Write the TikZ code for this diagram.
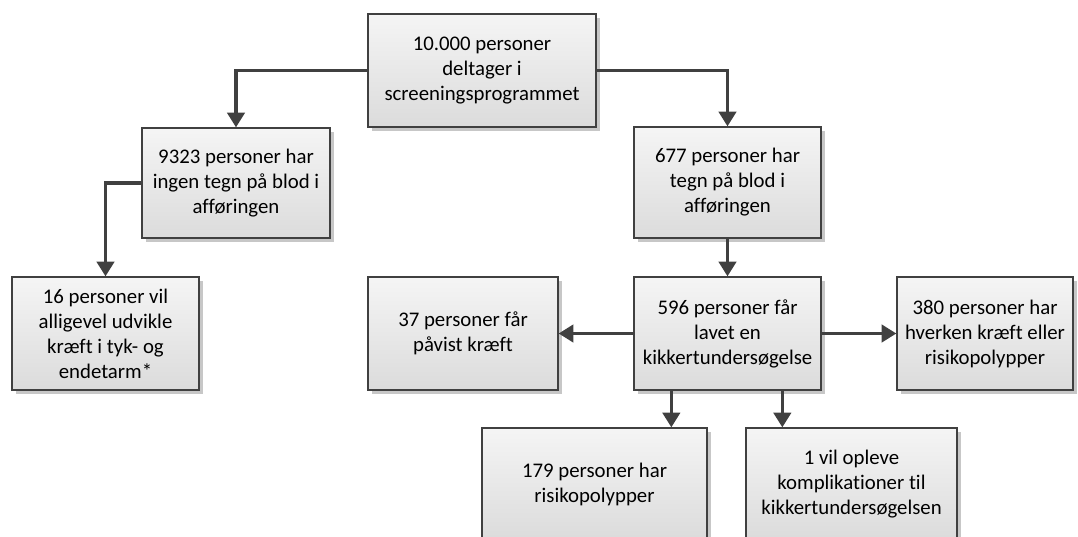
\documentclass[tikz,border=0pt]{standalone}
\usepackage{fontspec}
\setmainfont{Carlito}[Ligatures={NoCommon,NoRare,NoContextual}]
\usetikzlibrary{arrows.meta,shadows,calc}
\definecolor{edgegray}{HTML}{404040}
\definecolor{arrgray}{HTML}{404040}
\begin{document}
\begin{tikzpicture}[x=0.75pt,y=-0.75pt,
  box/.style={draw=edgegray, line width=1pt, top color=black!4, bottom color=black!14,
    drop shadow={shadow xshift=3pt, shadow yshift=-3pt, fill=black!22, opacity=1},
    align=center, inner sep=0pt, text=black,
    font=\fontsize{15.6pt}{18.75pt}\selectfont},
  arr/.style={draw=arrgray, line width=2.4pt, -{Triangle[width=13pt,length=11pt]}}]
\useasboundingbox (0,0) rectangle (1078,536);
\clip (0,0) rectangle (1078,536);
\node[box, minimum width=171pt, minimum height=84.75pt] (top) at (482,70.5)
  {10.000 personer\\deltager i\\screeningsprogrammet};
\node[box, minimum width=141pt, minimum height=82.5pt] (b9323) at (236,183)
  {9323 personer har\\ingen tegn på blod i\\afføringen};
\node[box, minimum width=140.25pt, minimum height=83.25pt] (b677) at (727.5,182.5)
  {677 personer har\\tegn på blod i\\afføringen};
\node[box, minimum width=140.25pt, minimum height=84.75pt] (b16) at (105.5,333.5)
  {16 personer vil\\alligevel udvikle\\kræft i tyk- og\\endetarm*};
\node[box, minimum width=142.5pt, minimum height=84.75pt] (b37) at (463,333.5)
  {37 personer får\\påvist kræft};
\node[box, minimum width=140.25pt, minimum height=84.75pt] (b596) at (727.5,333.5)
  {596 personer får\\lavet en\\kikkertundersøgelse};
\node[box, minimum width=132pt, minimum height=84.75pt] (b380) at (985,333.5)
  {380 personer har\\hverken kræft eller\\risikopolypper};
\node[box, minimum width=168.75pt, minimum height=84pt] (b179) at (594.5,484)
  {179 personer har\\risikopolypper};
\node[box, minimum width=158.25pt, minimum height=84pt] (b1) at (851.5,484)
  {1 vil opleve\\komplikationer til\\kikkertundersøgelsen};
\draw[arr] (top.west) -| (b9323.north);
\draw[arr] (top.east) -| (b677.north);
\draw[arr] (b9323.west) -| (b16.north);
\draw[arr] (b677.south) -- (b596.north);
\draw[arr] (b596.west) -- (b37.east);
\draw[arr] (b596.east) -- (b380.west);
\path (b596.south west) ++(38,0) coordinate (d1);
\path (b596.south west) ++(149,0) coordinate (d2);
\draw[arr] (d1) -- (d1 |- b179.north);
\draw[arr] (d2) -- (d2 |- b1.north);
\end{tikzpicture}
\end{document}
